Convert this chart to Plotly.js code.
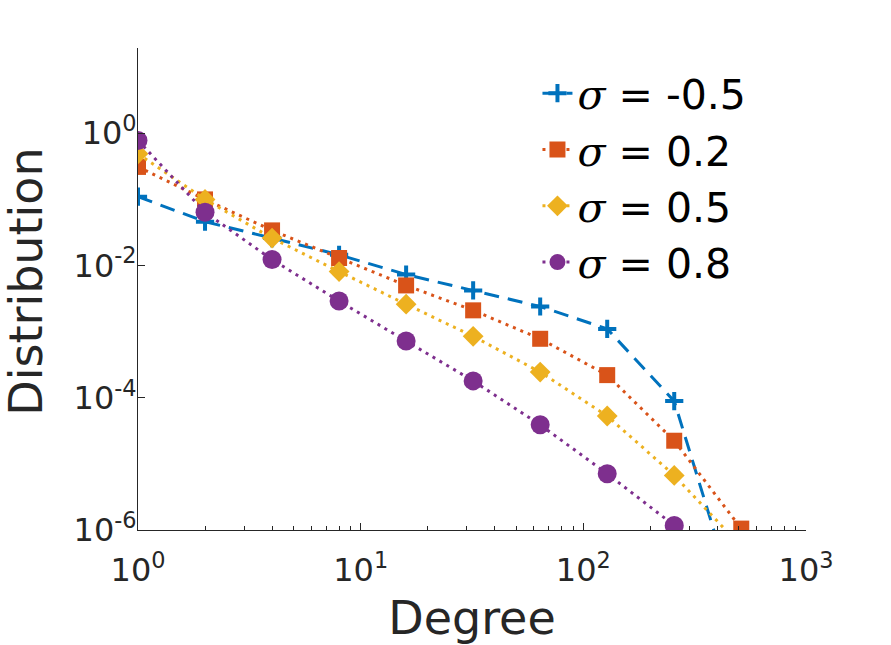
<!DOCTYPE html>
<html>
<head>
<meta charset="utf-8">
<script src="https://cdn.plot.ly/plotly-3.0.1.min.js"></script>
<style>
  html, body { margin: 0; padding: 0; background: #fff; }
  #myDiv { width: 891px; height: 645px; }
</style>
</head>
<body>
<div id="myDiv"></div>
<script>
// degree bins (log2 spaced)
const degree = [1, 2, 4, 8, 16, 32, 64, 128, 256, 512];

// distribution values, one array per sigma
const distNeg05 = [0.11, 0.046, 0.026, 0.0145, 0.0073, 0.0042, 0.0024, 0.0011, 8.9e-5, 4.4e-8];
const dist02 = [0.31, 0.10, 0.034, 0.013, 0.005, 0.0021, 7.8e-4, 2.2e-4, 2.24e-5, 1.05e-6];
const dist05 = [0.49, 0.10, 0.026, 0.0081, 0.0026, 8.5e-4, 2.45e-4, 5.3e-5, 6.7e-6, 5.6e-7];
const dist08 = [0.78, 0.064, 0.0123, 0.0029, 7.2e-4, 1.8e-4, 3.9e-5, 7.1e-6, 1.17e-6, null];

const seriesNames = ['-0.5', '0.2', '0.5', '0.8'];

// tick labels
const xTickVals = [1, 10, 100, 1000];
const xTickText = ['10<sup>0</sup>', '10<sup>1</sup>', '10<sup>2</sup>', '10<sup>3</sup>'];
const yTickVals = [1e-6, 1e-4, 1e-2, 1];
const yTickText = ['10<sup>-6</sup>', '10<sup>-4</sup>', '10<sup>-2</sup>', '10<sup>0</sup>'];

// minor tick positions 2..9 in each decade
let xMinor = [];
for (let d = 1; d <= 100; d *= 10) {
    for (let k = 2; k <= 9; k++) xMinor.push(k * d);
}

const sigma = '<span style="font-family:DejaVu Serif;font-style:italic">σ</span>';

function series(y, name, color, symbol, size, dash) {
    return {
        x: degree,
        y: y,
        name: sigma + ' = ' + name,
        type: 'scatter',
        mode: 'lines+markers',
        line: {color: color, width: 3, dash: dash},
        marker: {color: color, symbol: symbol, size: size,
                 line: {color: color, width: symbol === 'cross-thin' ? 4 : 0}}
    };
}

let data = [
    series(distNeg05, seriesNames[0], '#0072BD', 'cross-thin', 13, '15px,9px'),
    series(dist02, seriesNames[1], '#D95319', 'square', 16, '3px,5px'),
    series(dist05, seriesNames[2], '#EDB120', 'diamond', 16, '3px,5px'),
    series(dist08, seriesNames[3], '#7E2F8E', 'circle', 19, '3px,5px')
];

let axisFont = {family: 'DejaVu Sans', size: 32, color: '#262626'};
let titleFont = {family: 'DejaVu Sans', size: 46, color: '#262626'};

let layout = {
    width: 891,
    height: 645,
    paper_bgcolor: '#fff',
    plot_bgcolor: '#fff',
    margin: {l: 138, r: 85, t: 48, b: 115},
    showlegend: true,
    legend: {
        x: 0.598, y: 0.975, xanchor: 'left', yanchor: 'top',
        bgcolor: 'rgba(0,0,0,0)',
        font: {family: 'DejaVu Sans', size: 41, color: '#000'}
    },
    xaxis: {
        type: 'log',
        range: [0, 3],
        tickmode: 'array',
        tickvals: xTickVals,
        ticktext: xTickText,
        ticks: 'inside',
        ticklen: 7,
        tickcolor: '#262626',
        ticklabelstandoff: 12,
        showline: true,
        linecolor: '#262626',
        linewidth: 1,
        showgrid: false,
        zeroline: false,
        tickfont: axisFont,
        minor: {tickmode: 'array', tickvals: xMinor, ticks: 'inside', ticklen: 4, tickcolor: '#262626', showgrid: false},
        title: {text: 'Degree', font: titleFont, standoff: 13}
    },
    yaxis: {
        type: 'log',
        range: [-6, 1.29],
        tickmode: 'array',
        tickvals: yTickVals,
        ticktext: yTickText,
        ticks: 'inside',
        ticklen: 7,
        tickcolor: '#262626',
        ticklabelstandoff: -6,
        showline: true,
        linecolor: '#262626',
        linewidth: 1,
        showgrid: false,
        zeroline: false,
        tickfont: axisFont
    },
    annotations: [{
        text: 'Distribution',
        xref: 'paper', yref: 'paper',
        x: -0.167, y: 0.516,
        xanchor: 'center', yanchor: 'middle',
        textangle: -90,
        showarrow: false,
        font: titleFont
    }]
};

Plotly.newPlot('myDiv', data, layout, {displayModeBar: false, staticPlot: true});
</script>
</body>
</html>
